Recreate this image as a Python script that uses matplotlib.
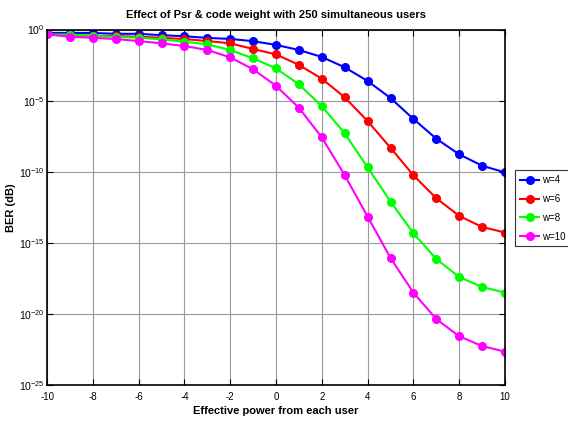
import numpy as np
import matplotlib
matplotlib.use("Agg")
import matplotlib.pyplot as plt
from matplotlib.ticker import FixedLocator, NullLocator, FuncFormatter

plt.rcParams['font.family'] = ['Liberation Sans', 'DejaVu Sans']
plt.rcParams['axes.unicode_minus'] = False
plt.rcParams['mathtext.fontset'] = 'custom'
plt.rcParams['mathtext.rm'] = 'Liberation Sans'
plt.rcParams['mathtext.default'] = 'regular'

# effective power (x axis)
power = list(range(-10, 11))

# log10(BER)
log_w4 = [-0.24, -0.24, -0.24, -0.30, -0.30, -0.40, -0.47, -0.59, -0.66, -0.82, -1.08,
          -1.44, -1.93, -2.66, -3.62, -4.82, -6.29, -7.68, -8.78, -9.58, -10.05]
log_w6 = [-0.34, -0.39, -0.44, -0.46, -0.51, -0.58, -0.67, -0.81, -0.97, -1.37, -1.75,
          -2.49, -3.46, -4.77, -6.44, -8.32, -10.25, -11.87, -13.11, -13.89, -14.28]
log_w8 = [-0.34, -0.36, -0.44, -0.51, -0.58, -0.69, -0.86, -1.04, -1.44, -2.03, -2.73,
          -3.86, -5.39, -7.31, -9.70, -12.10, -14.33, -16.14, -17.41, -18.11, -18.51]
log_w10 = [-0.34, -0.51, -0.58, -0.67, -0.81, -0.97, -1.16, -1.44, -1.96, -2.80, -3.96,
           -5.51, -7.59, -10.25, -13.16, -16.07, -18.51, -20.37, -21.58, -22.27, -22.66]

labels = ['w=4', 'w=6', 'w=8', 'w=10']
colors = ['#0000ff', '#ff0000', '#00ff00', '#ff00ff']

fig = plt.figure(figsize=(5.68, 4.22), dpi=100)
ax = fig.add_axes([0.083, 0.088, 0.806, 0.842])

for logs, lab, col in zip([log_w4, log_w6, log_w8, log_w10], labels, colors):
    ax.semilogy(power, 10.0 ** np.array(logs), '-o', color=col, lw=1.5,
                markersize=5.5, label=lab)

ax.set_xlim(-10, 10)
ax.set_ylim(1e-25, 1e0)
ax.set_xticks(range(-10, 11, 2))
ax.yaxis.set_major_locator(FixedLocator([10.0 ** e for e in range(-25, 1, 5)]))
ax.yaxis.set_minor_locator(NullLocator())
ax.yaxis.set_major_formatter(FuncFormatter(
    lambda v, p: r'$10^{%d}$' % int(round(np.log10(v)))))
ax.tick_params(direction='in', labelsize=7, length=4, width=0.8,
               top=True, right=True, pad=5)
ax.tick_params(axis='y', labelsize=7.5, pad=2)
ax.grid(True, color='#999999', lw=0.8)
for s in ax.spines.values():
    s.set_linewidth(1.2)

ax.set_title('Effect of Psr & code weight with 250 simultaneous users',
             fontsize=8, fontweight='bold', pad=8)
ax.set_xlabel('Effective power from each user', fontsize=8, fontweight='bold', labelpad=3)
ax.set_ylabel('BER (dB)', fontsize=8, fontweight='bold', labelpad=2)

leg = ax.legend(loc='upper left', bbox_to_anchor=(0.907, 0.596),
                bbox_transform=fig.transFigure, fontsize=7, frameon=True,
                fancybox=False, edgecolor='black', handlelength=2.0,
                handletextpad=0.3, borderpad=0.5, labelspacing=0.9,
                borderaxespad=0)
leg.get_frame().set_linewidth(0.8)

fig.savefig('out.png', dpi=100)
